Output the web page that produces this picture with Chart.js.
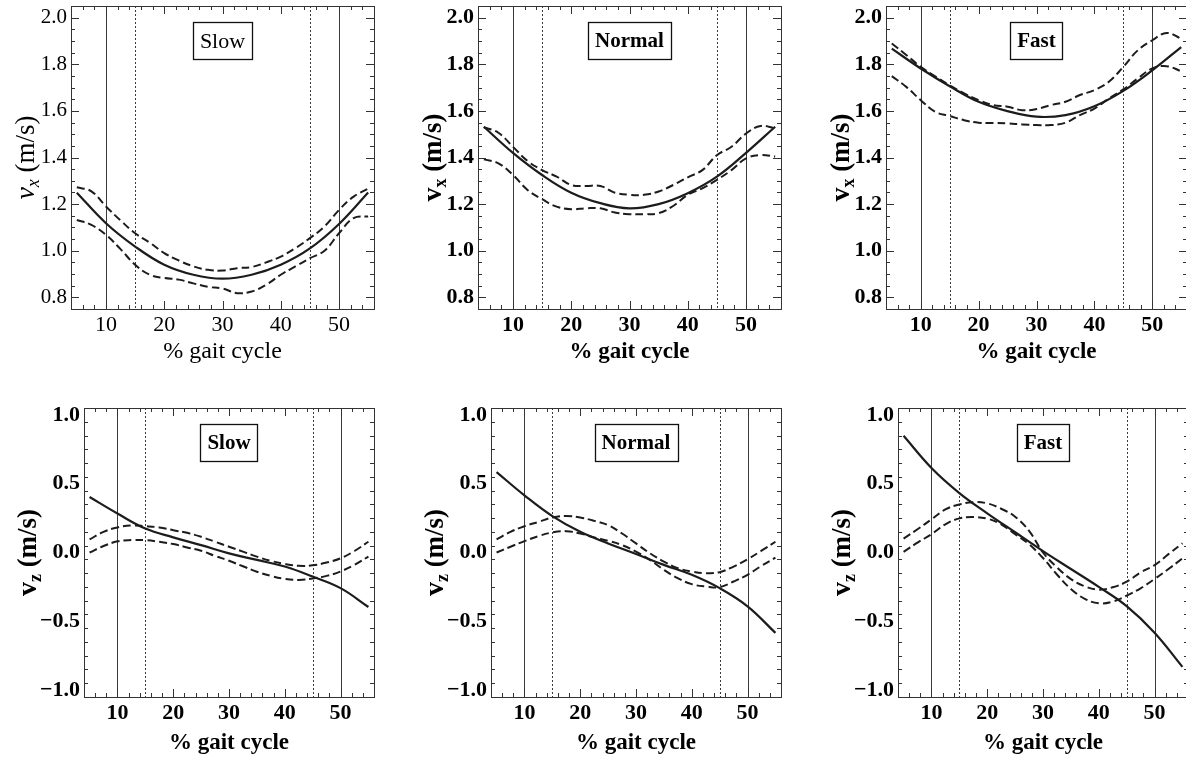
<!DOCTYPE html>
<html>
<head>
<meta charset="utf-8">
<title>Velocity during gait</title>
<script src="https://cdn.jsdelivr.net/npm/chart.js@4.4.0/dist/chart.umd.min.js"></script>
<style>
  html, body { margin: 0; padding: 0; background: #fff; }
  body { width: 1186px; height: 760px; position: relative; overflow: hidden; }
  canvas { position: absolute; }
</style>
</head>
<body>
<canvas id="c1"></canvas>
<canvas id="c2"></canvas>
<canvas id="c3"></canvas>
<canvas id="c4"></canvas>
<canvas id="c5"></canvas>
<canvas id="c6"></canvas>
<script>
// x positions (% gait cycle)
const xMean = [5, 10, 15, 20, 25, 30, 35, 40, 45, 50, 55];
const xBand = [5, 7.5, 10, 12.5, 15, 17.5, 20, 22.5, 25, 27.5, 30, 32.5, 35, 37.5, 40, 42.5, 45, 47.5, 50, 52.5, 55];

const xTicks = [10, 20, 30, 40, 50];
const vxTicks = [0.8, 1.0, 1.2, 1.4, 1.6, 1.8, 2.0];
const vzTicks = [-1.0, -0.5, 0.0, 0.5, 1.0];
const solidMarks = [10, 50];
const dottedMarks = [15, 45];

// horizontal velocity v_x
const slowVxMean = [1.249, 1.118, 1.018, 0.94, 0.897, 0.88, 0.897, 0.94, 1.01, 1.115, 1.25];
const slowVxUpper = [1.272, 1.255, 1.19, 1.13, 1.075, 1.035, 0.99, 0.958, 0.933, 0.918, 0.915, 0.925, 0.93, 0.95, 0.975, 1.011, 1.054, 1.104, 1.175, 1.232, 1.267];
const slowVxLower = [1.132, 1.111, 1.068, 1.007, 0.94, 0.897, 0.883, 0.876, 0.86, 0.845, 0.838, 0.818, 0.825, 0.854, 0.897, 0.933, 0.968, 1.0, 1.075, 1.14, 1.147];

const normalVxMean = [1.532, 1.42, 1.325, 1.249, 1.204, 1.182, 1.2, 1.247, 1.318, 1.42, 1.532];
const normalVxUpper = [1.53, 1.506, 1.446, 1.385, 1.346, 1.318, 1.282, 1.278, 1.278, 1.249, 1.24, 1.24, 1.254, 1.282, 1.315, 1.346, 1.41, 1.446, 1.503, 1.535, 1.525];
const normalVxLower = [1.392, 1.375, 1.325, 1.261, 1.221, 1.189, 1.178, 1.182, 1.182, 1.164, 1.157, 1.157, 1.161, 1.192, 1.24, 1.268, 1.304, 1.346, 1.396, 1.41, 1.404];

const fastVxMean = [1.867, 1.782, 1.706, 1.639, 1.599, 1.575, 1.582, 1.62, 1.686, 1.774, 1.874];
const fastVxUpper = [1.889, 1.84, 1.789, 1.748, 1.71, 1.675, 1.646, 1.625, 1.618, 1.603, 1.608, 1.625, 1.639, 1.668, 1.689, 1.725, 1.789, 1.86, 1.903, 1.934, 1.91];
const fastVxLower = [1.749, 1.703, 1.646, 1.596, 1.578, 1.56, 1.549, 1.548, 1.546, 1.542, 1.539, 1.539, 1.549, 1.582, 1.61, 1.653, 1.692, 1.739, 1.782, 1.792, 1.77];

// vertical velocity v_z
const slowVzMean = [0.403, 0.283, 0.174, 0.11, 0.054, -0.006, -0.054, -0.102, -0.175, -0.259, -0.396];
const slowVzUpper = [0.095, 0.15, 0.182, 0.196, 0.191, 0.182, 0.162, 0.143, 0.114, 0.078, 0.042, 0.006, -0.03, -0.061, -0.083, -0.097, -0.093, -0.073, -0.042, 0.011, 0.078];
const slowVzLower = [0.0, 0.047, 0.081, 0.09, 0.09, 0.078, 0.061, 0.037, 0.013, -0.025, -0.06, -0.1, -0.14, -0.17, -0.191, -0.199, -0.189, -0.17, -0.138, -0.09, -0.03];

const normalVzMean = [0.584, 0.415, 0.264, 0.15, 0.066, -0.011, -0.09, -0.162, -0.259, -0.391, -0.584];
const normalVzUpper = [0.095, 0.15, 0.191, 0.222, 0.254, 0.266, 0.254, 0.23, 0.199, 0.138, 0.066, -0.006, -0.066, -0.114, -0.138, -0.15, -0.143, -0.102, -0.049, 0.013, 0.078];
const normalVzLower = [0.0, 0.042, 0.083, 0.119, 0.146, 0.155, 0.138, 0.11, 0.085, 0.054, 0.006, -0.054, -0.126, -0.187, -0.23, -0.247, -0.251, -0.211, -0.162, -0.097, -0.037];

const fastVzMean = [0.848, 0.614, 0.432, 0.285, 0.147, 0.01, -0.12, -0.25, -0.39, -0.583, -0.831];
const fastVzUpper = [0.101, 0.169, 0.241, 0.313, 0.349, 0.366, 0.357, 0.318, 0.26, 0.157, 0.0, -0.108, -0.193, -0.246, -0.27, -0.253, -0.212, -0.145, -0.092, -0.012, 0.067];
const fastVzLower = [0.005, 0.072, 0.133, 0.205, 0.248, 0.258, 0.246, 0.205, 0.133, 0.06, -0.04, -0.16, -0.265, -0.337, -0.369, -0.357, -0.313, -0.26, -0.193, -0.12, -0.043];

const SERIF = "'Liberation Serif', 'Times New Roman', serif";

const rows = {
  vx: { min: 0.75, max: 2.05, ticks: vxTicks, minorStep: 0.05, majorStep: 0.2, boxY: 1.9,
        sub: 'x', titleOffset: 46, xAxisH: 70, titlePad: 13 },
  vz: { min: -1.05, max: 1.05, ticks: vzTicks, minorStep: 0.1, majorStep: 0.5, boxY: 0.8,
        sub: 'z', titleOffset: 57, xAxisH: 63, titlePad: 3 }
};

const panels = [
  { id: 'c1', row: 'vx', label: 'Slow',   plain: true,  mean: slowVxMean,   upper: slowVxUpper,   lower: slowVxLower,   area: [71, 6, 374, 309] },
  { id: 'c2', row: 'vx', label: 'Normal', plain: false, mean: normalVxMean, upper: normalVxUpper, lower: normalVxLower, area: [478, 6, 781, 309] },
  { id: 'c3', row: 'vx', label: 'Fast',   plain: false, mean: fastVxMean,   upper: fastVxUpper,   lower: fastVxLower,   area: [886, 6, 1187, 309] },
  { id: 'c4', row: 'vz', label: 'Slow',   plain: false, mean: slowVzMean,   upper: slowVzUpper,   lower: slowVzLower,   area: [84, 408, 374, 697] },
  { id: 'c5', row: 'vz', label: 'Normal', plain: false, mean: normalVzMean, upper: normalVzUpper, lower: normalVzLower, area: [491, 408, 781, 697] },
  { id: 'c6', row: 'vz', label: 'Fast',   plain: false, mean: fastVzMean,   upper: fastVzUpper,   lower: fastVzLower,   area: [898, 408, 1188, 697] }
];

const Y_AXIS_W = 80;
const PAD_TOP = 6;
const PAD_RIGHT = 12;

function toPoints(xs, ys) {
  return xs.map((x, i) => ({ x: x, y: ys[i] }));
}

function fmtTick(v) {
  const s = Math.abs(v) < 1e-9 ? '0.0' : v.toFixed(1);
  return s.replace('-', '\u2212');
}

function makeFramePlugin(panel, row) {
  const weight = panel.plain ? '' : 'bold ';
  return {
    id: 'frame' + panel.id,
    beforeDatasetsDraw(chart) {
      const { ctx, chartArea: a, scales: { x } } = chart;
      ctx.save();
      ctx.strokeStyle = '#3a3a3a';
      ctx.lineWidth = 1;
      solidMarks.forEach(v => {
        const px = Math.round(x.getPixelForValue(v)) + 0.5;
        ctx.beginPath(); ctx.moveTo(px, a.top); ctx.lineTo(px, a.bottom); ctx.stroke();
      });
      ctx.setLineDash([2, 2]);
      dottedMarks.forEach(v => {
        const px = Math.round(x.getPixelForValue(v)) + 0.5;
        ctx.beginPath(); ctx.moveTo(px, a.top); ctx.lineTo(px, a.bottom); ctx.stroke();
      });
      ctx.restore();
    },
    afterDraw(chart) {
      const { ctx, chartArea: a, scales: { x, y } } = chart;
      ctx.save();
      ctx.strokeStyle = '#333';
      ctx.lineWidth = 1;
      // frame
      ctx.strokeRect(Math.round(a.left) + 0.5, Math.round(a.top) + 0.5,
                     Math.round(a.right - a.left), Math.round(a.bottom - a.top));
      // inward ticks on all four sides
      ctx.beginPath();
      for (let v = 4; v <= 56; v += 2) {
        const len = v % 10 === 0 ? 8 : 4;
        const px = Math.round(x.getPixelForValue(v)) + 0.5;
        ctx.moveTo(px, a.bottom); ctx.lineTo(px, a.bottom - len);
        ctx.moveTo(px, a.top); ctx.lineTo(px, a.top + len);
      }
      const n = Math.round((row.max - row.min) / row.minorStep);
      for (let i = 0; i <= n; i++) {
        const v = row.min + i * row.minorStep;
        const r = v / row.majorStep;
        const len = Math.abs(r - Math.round(r)) < 1e-6 ? 8 : 4;
        const py = Math.round(y.getPixelForValue(v)) + 0.5;
        ctx.moveTo(a.left, py); ctx.lineTo(a.left + len, py);
        ctx.moveTo(a.right, py); ctx.lineTo(a.right - len, py);
      }
      ctx.stroke();

      // boxed speed label
      const fontSize = panel.plain ? 22 : 21;
      ctx.font = weight + fontSize + 'px ' + SERIF;
      ctx.textAlign = 'center';
      ctx.textBaseline = 'middle';
      const cx = x.getPixelForValue(30);
      const cy = y.getPixelForValue(row.boxY);
      const tw = ctx.measureText(panel.label).width;
      const bw = tw + 14, bh = 37;
      ctx.fillStyle = '#fff';
      ctx.fillRect(cx - bw / 2, cy - bh / 2, bw, bh);
      ctx.lineWidth = 1.3;
      ctx.strokeStyle = '#111';
      ctx.strokeRect(Math.round(cx - bw / 2) + 0.5, Math.round(cy - bh / 2) + 0.5, Math.round(bw), bh);
      ctx.fillStyle = '#000';
      ctx.fillText(panel.label, cx, cy + 1);

      // rotated y title with subscript
      ctx.translate(a.left - row.titleOffset, (a.top + a.bottom) / 2);
      ctx.rotate(-Math.PI / 2);
      const vFont = (panel.plain ? 'italic ' : 'bold ') + '28px ' + SERIF;
      const sFont = (panel.plain ? 'italic ' : 'bold ') + '18px ' + SERIF;
      const uFont = weight + '27px ' + SERIF;
      const unit = ' (m/s)';
      ctx.font = vFont; const wv = ctx.measureText('v').width;
      ctx.font = sFont; const ws = ctx.measureText(row.sub).width;
      ctx.font = uFont; const wu = ctx.measureText(unit).width;
      let sx = -(wv + ws + wu) / 2;
      ctx.textAlign = 'left';
      ctx.textBaseline = 'alphabetic';
      ctx.font = vFont; ctx.fillText('v', sx, 9); sx += wv;
      ctx.font = sFont; ctx.fillText(row.sub, sx, 14); sx += ws;
      ctx.font = uFont; ctx.fillText(unit, sx, 9);
      ctx.restore();
    }
  };
}

panels.forEach(panel => {
  const row = rows[panel.row];
  const [L, T, R, B] = panel.area;
  const canvas = document.getElementById(panel.id);
  const w = (R - L) + Y_AXIS_W + PAD_RIGHT;
  const h = (B - T) + PAD_TOP + row.xAxisH;
  canvas.width = w; canvas.height = h;
  canvas.style.left = (L - Y_AXIS_W) + 'px';
  canvas.style.top = (T - PAD_TOP) + 'px';
  canvas.style.width = w + 'px';
  canvas.style.height = h + 'px';

  const weight = panel.plain ? 'normal' : 'bold';
  const lineColor = '#1c1c1c';

  new Chart(canvas, {
    type: 'line',
    data: {
      datasets: [
        { label: 'upper', data: toPoints(xBand, panel.upper), borderColor: lineColor, borderWidth: 2,
          borderDash: [8, 4], pointRadius: 0, tension: 0.4, fill: false },
        { label: 'lower', data: toPoints(xBand, panel.lower), borderColor: lineColor, borderWidth: 2,
          borderDash: [8, 4], pointRadius: 0, tension: 0.4, fill: false },
        { label: 'mean', data: toPoints(xMean, panel.mean), borderColor: lineColor, borderWidth: 2.2,
          pointRadius: 0, tension: 0.4, fill: false }
      ]
    },
    options: {
      responsive: false,
      animation: false,
      devicePixelRatio: 1,
      layout: { padding: { left: 0, top: PAD_TOP, right: PAD_RIGHT, bottom: 0 } },
      plugins: { legend: { display: false }, tooltip: { enabled: false } },
      scales: {
        x: {
          type: 'linear', min: 4, max: 56,
          grid: { display: false, drawTicks: false },
          border: { display: false },
          afterBuildTicks: s => { s.ticks = xTicks.map(v => ({ value: v })); },
          afterFit: s => { s.height = row.xAxisH; s.paddingLeft = 0; s.paddingRight = 0; },
          ticks: { autoSkip: false, maxRotation: 0, padding: 3, color: '#000',
                   font: { family: SERIF, size: 22, weight: weight } },
          title: { display: true, text: '% gait cycle', color: '#000',
                   padding: { top: 0, bottom: row.titlePad },
                   font: { family: SERIF, size: panel.plain ? 24 : 23, weight: weight } }
        },
        y: {
          type: 'linear', min: row.min, max: row.max,
          grid: { display: false, drawTicks: false },
          border: { display: false },
          afterBuildTicks: s => { s.ticks = row.ticks.map(v => ({ value: v })); },
          afterFit: s => { s.width = Y_AXIS_W; s.paddingTop = 0; s.paddingBottom = 0; },
          ticks: { autoSkip: false, padding: 4, color: '#000', callback: v => fmtTick(v),
                   font: { family: SERIF, size: panel.plain ? 21 : 22, weight: weight } }
        }
      }
    },
    plugins: [makeFramePlugin(panel, row)]
  });
});
</script>
</body>
</html>
